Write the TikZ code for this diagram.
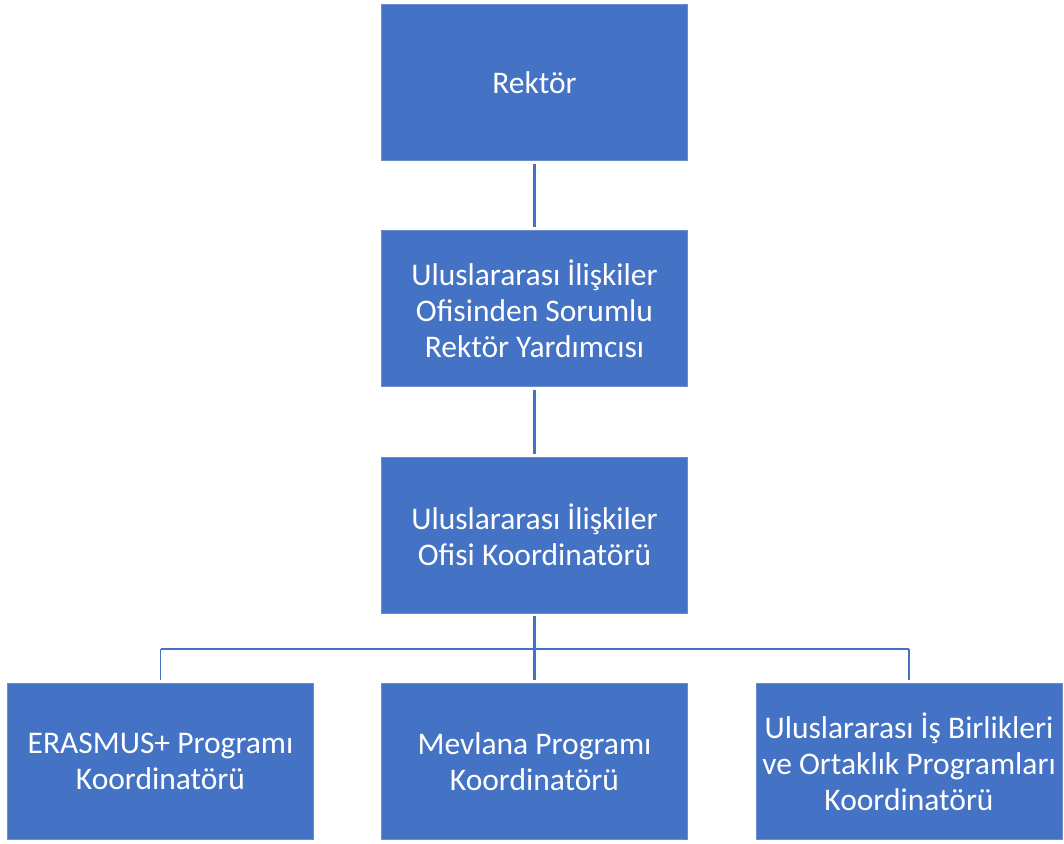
\documentclass[tikz,border=0pt]{standalone}
\usepackage{fontspec}
\setmainfont{Carlito}
\definecolor{boxblue}{HTML}{4472C4}
\definecolor{lineblue}{HTML}{4472C4}
\tikzset{
  orgbox/.style={fill=boxblue, draw=boxblue!80!white, line width=0.6pt, minimum width=306pt, minimum height=156pt,
    text=white, align=center, inner sep=0pt, font=\fontsize{31.5}{36}\selectfont},
  link/.style={draw=lineblue, line width=2.2pt, shorten <=3pt, shorten >=3pt},
  bus/.style={draw=lineblue, line width=1.6pt}
}
\begin{document}
\begin{tikzpicture}[x=1pt,y=-1pt]
\useasboundingbox (0,0) rectangle (1064,843);
\node[orgbox] (r) at (534.5,82.5) {Rektör};
\node[orgbox] (y) at (534.5,308.5) {Uluslararası İlişkiler\\Ofisinden Sorumlu\\Rektör Yardımcısı};
\node[orgbox] (k) at (534.5,535) {Uluslararası İlişkiler\\Ofisi Koordinatörü};
\node[orgbox] (e) at (160.5,761.5) {ERASMUS+ Programı\\Koordinatörü};
\node[orgbox] (m) at (534.5,761.5) {Mevlana Programı\\Koordinatörü};
\node[orgbox] (u) at (909,761.5) {Uluslararası İş Birlikleri\\ve Ortaklık Programları\\Koordinatörü};
\coordinate (busy) at (534.5,649);
\draw[link] (r.south) -- (y.north);
\draw[link] (y.south) -- (k.north);
\draw[link] (k.south) -- (m.north);
\draw[bus] (busy -| e.north) -- (busy -| u.north);
\draw[bus, shorten >=3pt] (busy -| e.north) -- (e.north);
\draw[bus, shorten >=3pt] (busy -| u.north) -- (u.north);
\end{tikzpicture}
\end{document}
